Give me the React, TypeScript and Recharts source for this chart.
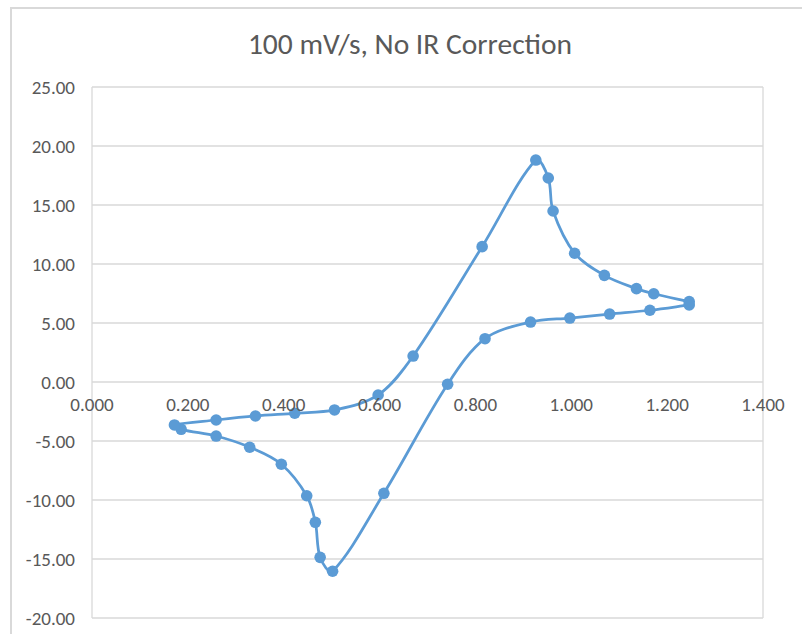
import { ScatterChart, Scatter, XAxis, YAxis, CartesianGrid, ReferenceDot } from 'recharts';

// potential (V) and current, in scan order (reverse sweep first, then forward)
const potential = [
  1.246, 1.164, 1.080, 0.997, 0.915, 0.820, 0.742, 0.609, 0.502, 0.476, 0.466, 0.448, 0.395, 0.329, 0.259, 0.186,
  0.172, 0.259, 0.341, 0.423, 0.506, 0.597, 0.670, 0.814, 0.926, 0.952, 0.962, 1.007, 1.069, 1.136, 1.172, 1.246,
];
const current = [
  6.53, 6.08, 5.76, 5.42, 5.08, 3.67, -0.19, -9.43, -16.04, -14.86, -11.89, -9.64, -6.97, -5.53, -4.58, -4.01,
  -3.64, -3.22, -2.88, -2.65, -2.37, -1.10, 2.20, 11.47, 18.81, 17.29, 14.49, 10.91, 9.04, 7.91, 7.48, 6.81,
];
const xTicks = [0, 0.2, 0.4, 0.6, 0.8, 1.0, 1.2, 1.4];
const yTicks = [-20, -15, -10, -5, 0, 5, 10, 15, 20, 25];

const data = potential.map((x, i) => ({ x, y: current[i] }));

const FONT = "Carlito, 'Open Sans', sans-serif";
const TEXT = '#595959';
const BLUE = '#5b9bd5';

// bezier smoothing, tangents weighted by segment length so short hops don't overshoot
function smoothCurve(context: any) {
  let pts: [number, number][] = [];
  const dist = (a: number[], b: number[]) => Math.hypot(a[0] - b[0], a[1] - b[1]);
  return {
    areaStart() {},
    areaEnd() {},
    lineStart() {
      pts = [];
    },
    lineEnd() {
      if (!pts.length) return;
      context.moveTo(pts[0][0], pts[0][1]);
      for (let i = 0; i < pts.length - 1; i++) {
        const p0 = pts[i - 1] || pts[i];
        const p1 = pts[i];
        const p2 = pts[i + 1];
        const p3 = pts[i + 2] || p2;
        const d01 = dist(p0, p1);
        const d12 = dist(p1, p2);
        const d23 = dist(p2, p3);
        const a = d01 + d12 > 0 ? d12 / (d01 + d12) / 3 : 0;
        const b = d12 + d23 > 0 ? d12 / (d12 + d23) / 3 : 0;
        context.bezierCurveTo(
          p1[0] + (p2[0] - p0[0]) * a,
          p1[1] + (p2[1] - p0[1]) * a,
          p2[0] - (p3[0] - p1[0]) * b,
          p2[1] - (p3[1] - p1[1]) * b,
          p2[0],
          p2[1]
        );
      }
    },
    point(x: number, y: number) {
      pts.push([x, y]);
    },
  };
}

const Marker = (props: any) => <circle cx={props.cx} cy={props.cy} r={5.8} fill={BLUE} />;

export default function App() {
  return (
    <div style={{ position: 'fixed', left: 0, top: 0, width: 802, height: 634, overflow: 'hidden', background: '#fff' }}>
      <div
        style={{
          position: 'absolute',
          left: 10,
          top: 7,
          width: 900,
          height: 900,
          borderTop: '2px solid #d9d9d9',
          borderLeft: '2px solid #d9d9d9',
        }}
      />
      <div
        style={{
          position: 'absolute',
          left: 410,
          top: 27,
          transform: 'translateX(-50%)',
          whiteSpace: 'nowrap',
          fontFamily: FONT,
          fontSize: 29.5,
          lineHeight: '34px',
          color: TEXT,
        }}
      >
        100 mV/s, No IR Correction
      </div>
      <div style={{ position: 'absolute', left: 0, top: 0 }}>
        <ScatterChart width={802} height={634} margin={{ top: 87, right: 39, bottom: 16, left: 0 }}>
          <CartesianGrid stroke="#d9d9d9" strokeWidth={1.3} />
          <XAxis
            type="number"
            dataKey="x"
            domain={[0, 1.4]}
            ticks={xTicks}
            tick={false}
            axisLine={false}
            tickLine={false}
            height={0}
          />
          <YAxis
            type="number"
            dataKey="y"
            domain={[-20, 25]}
            ticks={yTicks}
            width={92}
            axisLine={false}
            tickLine={false}
            tickMargin={11}
            tickFormatter={(v: number) => v.toFixed(2)}
            tick={{ fill: TEXT, fontSize: 19, fontFamily: FONT }}
          />
          {xTicks.map((t) => (
            <ReferenceDot
              key={t}
              x={t}
              y={0}
              r={0}
              stroke="none"
              fill="none"
              label={{ value: t.toFixed(3), position: 'bottom', offset: 16, fill: TEXT, fontSize: 19, fontFamily: FONT }}
            />
          ))}
          <Scatter
            data={data}
            fill={BLUE}
            shape={Marker}
            line={{ stroke: BLUE, strokeWidth: 2.75 }}
            lineType="joint"
            lineJointType={smoothCurve as any}
            isAnimationActive={false}
          />
        </ScatterChart>
      </div>
    </div>
  );
}
